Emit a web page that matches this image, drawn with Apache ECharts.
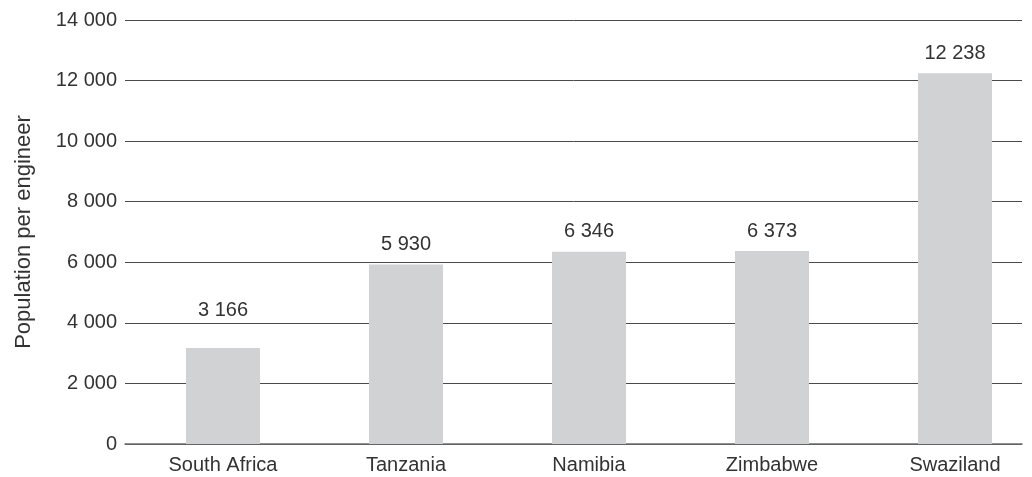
<!DOCTYPE html>
<html>
<head>
<meta charset="utf-8">
<script src="https://cdn.jsdelivr.net/npm/echarts@6/dist/echarts.min.js"></script>
<style>
  html, body { margin: 0; padding: 0; background: #fff; }
  #chart { width: 1032px; height: 477px; }
</style>
</head>
<body>
<div id="chart"></div>
<script>
// Population per engineer, by country
const countries = ['South Africa', 'Tanzania', 'Namibia', 'Zimbabwe', 'Swaziland'];
const populationPerEngineer = [3166, 5930, 6346, 6373, 12238];
const yTicks = [0, 2000, 4000, 6000, 8000, 10000, 12000, 14000];
const yTitle = 'Population per engineer';

const FONT = '"Liberation Sans", Arial, Helvetica, sans-serif';
const TEXT = '#333333';

// thousands separated by a space: 12238 -> "12 238"
const fmt = v => String(v).replace(/\B(?=(\d{3})+(?!\d))/g, ' ');

const yMin = yTicks[0];
const yMax = yTicks[yTicks.length - 1];
const yStep = yTicks[1] - yTicks[0];

const chart = echarts.init(document.getElementById('chart'), null, { renderer: 'canvas' });

chart.setOption({
  backgroundColor: '#ffffff',
  animation: false,
  grid: [
    // grid carrying the value axis and horizontal rules
    { left: 125, right: 10, top: 20, height: 424, containLabel: false },
    // grid whose edges sit on the first and last bar centres
    { left: 223, width: 732, top: 20, height: 424, containLabel: false }
  ],
  xAxis: [
    {
      gridIndex: 0, type: 'category', data: countries,
      axisLine: { show: true, lineStyle: { color: '#6e6e6e', width: 1.5 } },
      axisTick: { show: false }, axisLabel: { show: false }, splitLine: { show: false }
    },
    {
      gridIndex: 1, type: 'category', data: countries, boundaryGap: false,
      axisLine: { show: false }, axisTick: { show: false }, splitLine: { show: false },
      axisLabel: { color: TEXT, fontFamily: FONT, fontSize: 20, margin: 11 }
    }
  ],
  yAxis: [
    {
      gridIndex: 0, type: 'value', min: yMin, max: yMax, interval: yStep,
      name: yTitle, nameLocation: 'middle', nameGap: 90,
      nameTextStyle: { color: TEXT, fontFamily: FONT, fontSize: 22 },
      axisLine: { show: false }, axisTick: { show: false },
      axisLabel: { color: TEXT, fontFamily: FONT, fontSize: 20, margin: 8, formatter: fmt },
      splitLine: { show: true, lineStyle: { color: '#4a4a4a', width: 1 } }
    },
    {
      gridIndex: 1, type: 'value', min: yMin, max: yMax, interval: yStep,
      axisLine: { show: false }, axisTick: { show: false },
      axisLabel: { show: false }, splitLine: { show: false }
    }
  ],
  series: [
    {
      type: 'bar',
      xAxisIndex: 1, yAxisIndex: 1,
      barWidth: 74,
      clip: false,
      itemStyle: { color: '#d1d2d4' },
      label: {
        show: true, position: 'top', distance: 10,
        color: TEXT, fontFamily: FONT, fontSize: 20,
        formatter: p => fmt(p.value)
      },
      data: populationPerEngineer.map((v, i) => (
        i === 0 ? { value: v, label: { distance: 28 } } : v
      ))
    }
  ]
});
</script>
</body>
</html>
